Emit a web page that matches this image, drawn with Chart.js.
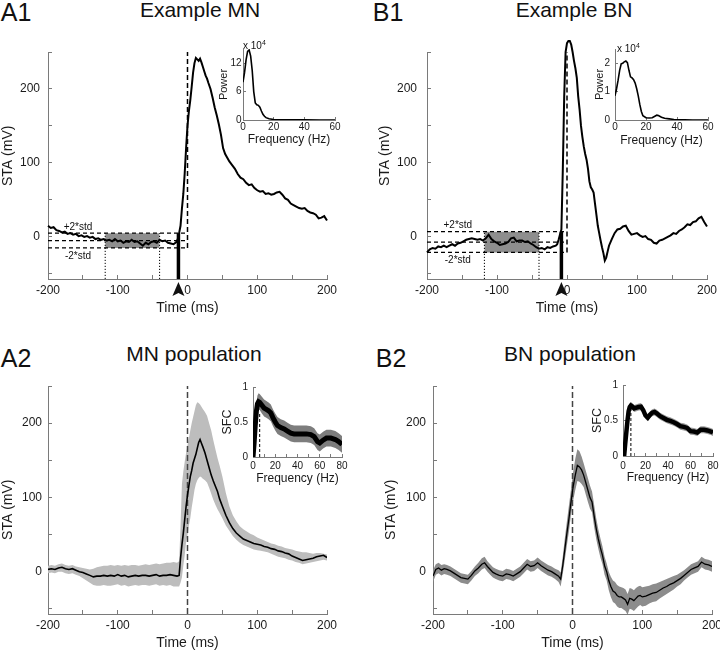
<!DOCTYPE html>
<html><head><meta charset="utf-8">
<script src="https://cdn.jsdelivr.net/npm/chart.js@4.4.1/dist/chart.umd.min.js"></script>
<style>
body{margin:0;background:#fff;width:720px;height:652px;position:relative;overflow:hidden;font-family:"Liberation Sans",Arial,Helvetica,sans-serif;}
canvas{position:absolute;}
.t{position:absolute;transform:translate(-50%,-50%);line-height:1;white-space:nowrap;color:#111;}
.e{position:absolute;font-size:10px;line-height:1;white-space:nowrap;color:#111;}
.e sup{font-size:7px;vertical-align:4px;line-height:0;}
</style></head><body>
<div class="t" style="left:16px;top:12px;font-size:25px">A1</div>
<div class="t" style="left:200px;top:9px;font-size:21px">Example MN</div>
<div class="t" style="left:388px;top:12px;font-size:25px">B1</div>
<div class="t" style="left:574px;top:9px;font-size:21px">Example BN</div>
<div class="t" style="left:16px;top:358px;font-size:25px">A2</div>
<div class="t" style="left:194px;top:353px;font-size:21px">MN population</div>
<div class="t" style="left:391px;top:358px;font-size:25px">B2</div>
<div class="t" style="left:570px;top:353px;font-size:21px">BN population</div>

<canvas id="cA1"></canvas>
<canvas id="cB1"></canvas>
<canvas id="cA2"></canvas>
<canvas id="cB2"></canvas>
<canvas id="iA1"></canvas>
<canvas id="iB1"></canvas>
<canvas id="iA2"></canvas>
<canvas id="iB2"></canvas>
<div class="e" style="left:243px;top:41px">x 10<sup>4</sup></div>
<div class="e" style="left:617px;top:44px">x 10<sup>4</sup></div>

<script>
// ---------------- DATA ----------------
// A1: example MN spike-triggered average
const tA1 = [
-200,-196,-192,-188,-184,-180,-176,-172,-168,-164,
-160,-156,-152,-148,-144,-140,-136,-132,-128,-124,
-120,-116,-112,-108,-104,-100,-96,-92,-88,-84,
-80,-76,-72,-68,-64,-60,-56,-52,-48,-44,
-40,-36,-32,-28,-24,-20,-16,-14,-12,-10,
-8,-6,-4,-2,0,2,4,6,8,10,
12,14,16,18,20,22,24,26,28,30,
33,36,39,42,45,48,51,54,57,60,
64,68,72,76,80,84,88,92,96,100,
104,108,112,116,120,124,128,132,136,140,
144,148,152,156,160,164,168,172,176,180,
184,188,192,196,200];
const staA1 = [
15,12,13,9,8,6,7,4,5,3,
4,1,2,0,1,-1,0,-3,-2,-4,
-3,-5,-4,-6,-3,-6,-5,-8,-6,-7,
-4,-7,-6,-9,-12,-8,-10,-7,-6,-8,
-4,-6,-5,-8,-9,-10,-7,-3,5,15,
38,58,86,120,150,170,185,203,222,235,
242,240,238,241,236,230,224,218,214,208,
200,188,175,164,152,138,120,112,107,102,
97,92,85,80,78,73,70,71,66,63,
61,62,58,59,57,58,60,61,57,52,
50,45,43,41,39,38,39,35,33,32,
30,25,26,28,22];
const stdA1 = [5, -5, -15];        // +2*std, mean, -2*std
const windowA1 = [-118, -40];      // shaded baseline window (ms)
const onsetA1 = [-13];             // spike onset (ms)

// B1: example BN
const tB1 = [
-200,-196,-192,-188,-184,-180,-176,-172,-168,-164,
-160,-156,-152,-148,-144,-140,-136,-132,-128,-124,
-120,-116,-112,-108,-104,-100,-96,-92,-88,-84,
-80,-76,-72,-68,-64,-60,-56,-52,-48,-44,
-40,-36,-32,-28,-24,-20,-16,-14,-12,-10,
-8,-6,-4,-2,0,2,4,6,8,10,
12,14,16,18,20,22,24,26,28,30,
32,34,36,38,40,42,44,46,48,50,
52,54,56,58,60,64,68,72,76,80,
84,88,92,96,100,104,108,112,116,120,
124,128,132,136,140,144,148,152,156,160,
164,168,172,176,180,184,188,192,196,200];
const staB1 = [
-21,-17,-15,-16,-13,-14,-12,-14,-12,-10,
-12,-9,-8,-6,-4,-3,-2,-3,-4,-3,
-5,-2,3,-3,-6,-8,-11,-10,-9,-7,
-2,-1,-6,-5,-5,-7,-6,-9,-11,-14,
-16,-15,-17,-14,-15,-13,-12,-10,-4,3,
10,90,190,250,262,265,265,260,250,238,
228,215,190,172,150,135,122,112,104,92,
75,67,64,60,45,30,15,5,-5,-14,
-22,-32,-28,-20,-12,-3,5,10,11,14,
15,8,3,4,5,2,0,1,-3,-4,
-8,-9,-5,-4,-2,0,2,5,4,8,
10,13,17,16,20,21,25,27,20,14];
const stdB1 = [7, -7, -21];
const windowB1 = [-118, -40];
const onsetB1 = [-8];

// A2: MN population mean +/- spread
const tA2 = [
-200,-195,-190,-185,-180,-175,-170,-165,-160,-155,
-150,-145,-140,-135,-130,-125,-120,-115,-110,-105,
-100,-95,-90,-85,-80,-75,-70,-65,-60,-55,
-50,-45,-40,-35,-30,-25,-20,-15,-12,-10,
-8,-6,-4,-2,0,2,4,6,8,10,
12,14,16,18,20,22,25,28,31,34,
37,40,43,46,50,55,60,65,70,75,
80,85,90,95,100,105,110,115,120,125,
130,135,140,145,150,155,160,165,170,175,
180,185,190,195,200];
const meanA2 = [
3,4,3,5,6,4,3,4,2,0,
-1,-3,-5,-7,-6,-6,-5,-6,-5,-6,
-4,-6,-5,-7,-6,-5,-6,-5,-5,-6,
-5,-4,-6,-5,-5,-4,-5,-6,-5,18,
36,52,70,88,103,116,128,136,146,152,
158,166,174,178,173,168,160,150,140,130,
122,115,108,98,88,76,66,58,52,48,
44,42,40,38,37,36,34,33,31,30,
28,27,25,24,21,19,17,15,16,17,
18,20,21,22,19];
const upperA2 = [
8,9,8,10,11,9,8,9,7,6,
5,4,3,4,6,7,8,8,9,8,
9,8,9,8,9,9,8,9,10,9,
10,11,10,11,12,12,13,12,14,60,
118,135,148,160,170,180,190,200,208,216,
224,228,227,225,222,219,215,210,200,190,
177,165,153,143,128,106,88,76,68,61,
57,54,51,49,46,44,42,40,38,37,
35,34,32,31,30,28,27,26,26,25,
24,25,25,24,23];
const lowerA2 = [
-2,-1,-2,0,0,-2,-3,-2,-4,-6,
-9,-12,-15,-18,-19,-19,-18,-19,-19,-18,
-17,-19,-18,-20,-19,-18,-19,-18,-18,-19,
-18,-17,-19,-18,-19,-18,-20,-20,-20,-15,
-8,8,22,40,50,62,72,86,98,110,
118,123,126,128,127,125,123,120,113,105,
97,90,84,79,72,62,55,48,43,39,
36,34,32,30,29,28,27,26,24,22,
20,19,18,16,15,13,12,10,11,12,
13,14,15,16,15];

// B2: BN population mean +/- spread
const tB2 = [
-200,-196,-192,-188,-184,-180,-175,-170,-165,-160,
-155,-150,-145,-140,-135,-130,-126,-122,-118,-114,
-110,-105,-100,-95,-90,-85,-80,-75,-70,-65,
-60,-55,-50,-45,-40,-35,-30,-25,-20,-17,
-14,-11,-8,-5,-2,1,4,7,10,13,
16,19,22,25,28,31,34,37,40,43,
46,49,52,55,58,61,64,67,70,73,
76,79,82,85,88,91,94,97,100,105,
110,115,120,125,130,135,140,145,150,155,
160,165,170,175,180,185,190,195,200];
const meanB2 = [
-6,3,5,2,4,3,1,-2,-5,-8,
-9,-10,-5,1,5,10,12,7,3,-1,
-3,-5,-6,-3,-4,-6,-3,0,5,10,
7,8,12,8,5,2,0,-3,-6,-10,
8,30,52,72,95,115,130,143,141,137,
130,120,110,100,94,75,58,44,32,22,
8,0,-12,-20,-26,-28,-32,-34,-34,-36,
-38,-44,-36,-37,-39,-36,-33,-32,-34,-33,
-31,-29,-28,-25,-22,-20,-17,-15,-12,-9,
-5,-1,3,5,7,13,10,9,7];
const upperB2 = [
2,10,12,9,10,9,7,4,1,-2,
-3,-4,1,7,12,18,20,14,10,6,
4,2,1,4,3,1,4,7,12,17,
14,15,19,15,12,9,7,4,2,-1,
20,45,68,90,112,135,152,165,162,155,
146,136,126,116,108,90,72,57,45,34,
20,11,0,-7,-12,-14,-18,-20,-21,-22,
-24,-30,-22,-23,-25,-22,-20,-19,-21,-20,
-19,-17,-16,-14,-12,-10,-8,-6,-4,-1,
2,6,10,12,14,20,17,16,14];
const lowerB2 = [
-14,-4,-2,-5,-3,-4,-6,-9,-12,-15,
-16,-17,-12,-6,-2,3,5,0,-4,-8,
-10,-12,-13,-10,-11,-13,-10,-7,-2,3,
0,1,5,1,-2,-5,-7,-10,-14,-20,
-3,16,36,55,78,96,110,122,121,118,
114,104,94,85,80,60,44,31,19,10,
-4,-12,-25,-34,-41,-43,-47,-49,-49,-51,
-53,-58,-50,-51,-53,-50,-47,-45,-47,-46,
-43,-41,-40,-36,-33,-30,-27,-24,-20,-17,
-12,-8,-4,-2,0,6,3,2,0];

// Insets: power spectra (x 10^4) and spike-field coherence
const freqA1 = [0,1,2,3,4,5,6,7,8,9,10,11,12,13,14,15,17,20,25,30,40,50,60];
const powerA1 = [8,10,12.7,14.5,14.8,13.5,10.5,6,3.6,3.2,3.1,2.7,1.9,1.2,0.8,0.5,0.25,0.12,0.06,0.04,0.02,0.01,0];
const freqB1 = [0,1,2,3,4,5,6,7,8,9,10,11,12,13,14,15,16,17,18,20,22,24,26,27,28,30,32,35,38,40,45,50,60];
const powerB1 = [0.85,1.1,1.4,1.75,1.98,2.0,2.05,2.08,2.02,1.75,1.52,1.48,1.42,1.3,1.1,0.85,0.55,0.3,0.15,0.08,0.07,0.08,0.14,0.17,0.16,0.1,0.06,0.04,0.02,0.01,0.005,0,0];

const freqA2 = [0,1,2,3,4,5,6,8,10,12,14,16,18,20,22,25,28,31,34,37,40,44,48,52,55,58,60,63,66,70,74,77,80];
const sfcA2 = [0,0.2,0.45,0.65,0.76,0.79,0.78,0.74,0.7,0.68,0.66,0.63,0.56,0.5,0.45,0.42,0.4,0.37,0.34,0.33,0.33,0.33,0.33,0.32,0.29,0.22,0.2,0.24,0.27,0.27,0.25,0.22,0.18];
const sfcUpA2 = [0.02,0.3,0.56,0.77,0.88,0.91,0.9,0.86,0.82,0.8,0.78,0.75,0.68,0.62,0.57,0.54,0.52,0.49,0.46,0.45,0.45,0.45,0.45,0.44,0.41,0.34,0.32,0.36,0.39,0.39,0.37,0.34,0.3];
const sfcLoA2 = [0,0.1,0.33,0.53,0.65,0.68,0.67,0.62,0.58,0.56,0.54,0.51,0.44,0.38,0.33,0.3,0.28,0.25,0.22,0.21,0.21,0.21,0.21,0.2,0.17,0.1,0.08,0.12,0.15,0.15,0.13,0.1,0.06];
const cutA2 = [6, 0.64];           // dashed marker: frequency, height

const freqB2 = [1,2,3,4,5,6,7,8,10,12,14,16,18,20,22,24,26,28,30,33,36,39,42,45,48,51,54,57,60,63,66,69,72,75,78,80];
const sfcB2 = [0,0.18,0.34,0.5,0.63,0.69,0.71,0.7,0.67,0.68,0.69,0.695,0.645,0.57,0.54,0.58,0.61,0.62,0.6,0.56,0.535,0.51,0.495,0.475,0.45,0.42,0.41,0.395,0.35,0.345,0.33,0.37,0.37,0.36,0.345,0.33];
const sfcUpB2 = [0.03,0.23,0.39,0.55,0.68,0.74,0.76,0.75,0.72,0.73,0.74,0.745,0.695,0.62,0.59,0.63,0.66,0.67,0.65,0.61,0.585,0.56,0.545,0.525,0.5,0.47,0.46,0.445,0.4,0.395,0.38,0.42,0.42,0.41,0.395,0.38];
const sfcLoB2 = [0,0.13,0.29,0.45,0.58,0.64,0.66,0.65,0.62,0.63,0.64,0.645,0.595,0.52,0.49,0.53,0.56,0.57,0.55,0.51,0.485,0.46,0.445,0.425,0.4,0.37,0.36,0.345,0.3,0.295,0.28,0.32,0.32,0.31,0.295,0.28];
const cutB2 = [7, 0.66];

// axis ranges / ticks
const staRange = [-57, 250];
const timeRange = [-200, 200];
const staTicks = [50, 100];        // tick step, label step
const timeTicks = [50, 100];

// ---------------- RENDERING ----------------
const FONT = '"Liberation Sans", Arial, Helvetica, sans-serif';
const AX = '#7a7a7a';
const TXT = '#1a1a1a';
Chart.defaults.font.family = FONT;
Chart.defaults.color = TXT;

function pts(xs, ys){ return xs.map((x,i)=>({x:x, y:ys[i]})); }
function ln(data, o){
  return Object.assign({data:data, borderColor:'#000', borderWidth:1.5, pointRadius:0, pointHoverRadius:0,
    fill:false, tension:0, backgroundColor:'rgba(0,0,0,0)'}, o||{});
}
function labeler(every){
  return function(v){
    const r = v/every;
    return Math.abs(r - Math.round(r)) < 1e-6 ? String(+(+v).toFixed(3)) : '';
  };
}
function axis(pos, g){
  const horiz = pos === 'bottom';
  const s = {
    type:'linear', position:pos, min:g.min, max:g.max,
    border:{display:true, color:AX, width:1},
    grid:{display:true, drawOnChartArea:false, drawTicks:true, tickLength:g.tl, color:AX, lineWidth:1},
    ticks:{stepSize:g.step, autoSkip:false, maxRotation:0, minRotation:0, includeBounds:false,
      padding:g.pad, color:TXT, font:{size:g.tf, family:FONT}, callback:labeler(g.every)},
    title:{display:true, text:g.title, color:TXT, font:{size:g.titleSize, family:FONT}, padding:0}
  };
  if (horiz) s.afterFit = function(sc){ sc.height = g.size; sc.paddingLeft = 0; sc.paddingRight = 0; };
  else s.afterFit = function(sc){ sc.width = g.size; sc.paddingTop = 0; sc.paddingBottom = 0; };
  return s;
}
function make(id, box, pad, datasets, xs, ys, plugins, pluginOpts){
  const c = document.getElementById(id);
  c.width = box[2]; c.height = box[3];
  c.style.left = box[0]+'px'; c.style.top = box[1]+'px';
  c.style.width = box[2]+'px'; c.style.height = box[3]+'px';
  return new Chart(c, {
    type:'line',
    data:{datasets:datasets},
    options:{
      responsive:false, animation:false, devicePixelRatio:1, events:[],
      layout:{padding:pad},
      plugins:Object.assign({legend:{display:false}, tooltip:{enabled:false}, title:{display:false}}, pluginOpts||{}),
      scales:{x:xs, y:ys}
    },
    plugins:plugins||[]
  });
}

const stdMarks = {
  id:'stdMarks',
  afterDatasetsDraw(chart, args, o){
    const {ctx, chartArea:a, scales:{x, y}} = chart;
    ctx.save();
    ctx.fillStyle = '#111';
    ctx.font = '10px ' + FONT;
    ctx.textAlign = 'center'; ctx.textBaseline = 'middle';
    const lx = x.getPixelForValue(o.labelAt);
    ctx.fillText('+2*std', lx, y.getPixelForValue(o.hi) - 6);
    ctx.fillText('-2*std', lx, y.getPixelForValue(o.lo) + 8);
    const ax = x.getPixelForValue(o.onset);
    const ay = a.bottom + 3;
    ctx.beginPath();
    ctx.moveTo(ax, ay);
    ctx.lineTo(ax + 6, ay + 14);
    ctx.lineTo(ax, ay + 11);
    ctx.lineTo(ax - 6, ay + 14);
    ctx.closePath();
    ctx.fill();
    ctx.restore();
  }
};

function exampleDatasets(t, v, std, win, onset){
  const hi = std[0], mid = std[1], lo = std[2];
  const yMin = staRange[0], yMax = staRange[1];
  return [
    ln(pts(t, v), {borderWidth:2, clip:false}),
    ln(pts([onset[0], onset[0]], [yMin, hi]), {borderWidth:3.5}),
    ln(pts([0, 0], [lo, yMax]), {borderWidth:1.5, borderDash:[5,3]}),
    ln(pts([timeRange[0], 0], [hi, hi]), {borderWidth:1.2, borderDash:[4,3]}),
    ln(pts([timeRange[0], 0], [mid, mid]), {borderWidth:1.2, borderDash:[4,3]}),
    ln(pts([timeRange[0], 0], [lo, lo]), {borderWidth:1.2, borderDash:[4,3]}),
    ln(pts([win[0], win[0]], [yMin, hi]), {borderWidth:1, borderDash:[1.2,1.8]}),
    ln(pts([win[1], win[1]], [yMin, hi]), {borderWidth:1, borderDash:[1.2,1.8]}),
    ln(pts(win, [hi, hi]), {borderWidth:0, fill:'+1', backgroundColor:'#8e8e8e'}),
    ln(pts(win, [lo, lo]), {borderWidth:0})
  ];
}
function popDatasets(t, m, up, lo, band, w){
  return [
    ln(pts(t, m), {borderWidth:w}),
    ln(pts([0, 0], staRange), {borderWidth:1.5, borderColor:'#444', borderDash:[6,3]}),
    ln(pts(t, up), {borderWidth:0, fill:'+1', backgroundColor:band}),
    ln(pts(t, lo), {borderWidth:0})
  ];
}
// leading / trailing spaces nudge the rotated title along the axis
function staY(size, pad, title){ return {min:staRange[0], max:staRange[1], step:staTicks[0], every:staTicks[1], tl:-4, pad:pad, tf:12, title:title, titleSize:14, size:size}; }
function timeX(){ return {min:timeRange[0], max:timeRange[1], step:timeTicks[0], every:timeTicks[1], tl:-4, pad:8, tf:12, title:'Time (ms)', titleSize:14, size:38}; }
const STA_UP = '     STA (mV)';
const STA_DOWN = 'STA (mV)     ';

// main panels
make('cA1', [0,36,341,281], {left:0,top:16,right:14,bottom:0},
  exampleDatasets(tA1, staA1, stdA1, windowA1, onsetA1),
  axis('bottom', timeX()), axis('left', staY(48, 12, STA_UP)), [stdMarks],
  {stdMarks:{labelAt:-157, hi:stdA1[0], lo:stdA1[2], onset:onsetA1[0]}});
make('cB1', [377,36,343,281], {left:0,top:16,right:13,bottom:0},
  exampleDatasets(tB1, staB1, stdB1, windowB1, onsetB1),
  axis('bottom', timeX()), axis('left', staY(50, 14, STA_UP)), [stdMarks],
  {stdMarks:{labelAt:-156, hi:stdB1[0], lo:stdB1[2], onset:onsetB1[0]}});
make('cA2', [0,378,341,274], {left:0,top:8,right:14,bottom:0},
  popDatasets(tA2, meanA2, upperA2, lowerA2, '#bdbdbd', 1.6),
  axis('bottom', timeX()), axis('left', staY(48, 10, STA_DOWN)));
make('cB2', [383,378,337,274], {left:0,top:8,right:8,bottom:0},
  popDatasets(tB2, meanB2, upperB2, lowerB2, '#8c8c8c', 1.3),
  axis('bottom', timeX()), axis('left', staY(50, 11, STA_DOWN)));

// insets
function fx(max, step, every, pad){ return {min:0, max:max, step:step, every:every, tl:-3, pad:pad, tf:10, title:'Frequency (Hz)', titleSize:12, size:0}; }
const gxA1 = fx(60, 20, 20, 4); gxA1.size = 27;
const gyA1 = {min:0, max:15, step:6, every:6, tl:-3, pad:4.5, tf:10, title:'Power', titleSize:11, size:26};
make('iA1', [217,45,126,102], {left:0,top:4,right:8,bottom:0},
  [ln(pts(freqA1, powerA1), {borderWidth:1.6})], axis('bottom', gxA1), axis('left', gyA1));

const gxB1 = fx(60, 20, 20, 4); gxB1.size = 28;
const gyB1 = {min:0, max:2.5, step:1, every:1, tl:-3, pad:8, tf:10, title:'Power', titleSize:11, size:22};
make('iB1', [593,45,127,103], {left:0,top:4,right:12,bottom:0},
  [ln(pts(freqB1, powerB1), {borderWidth:1.6})], axis('bottom', gxB1), axis('left', gyB1));

function sfcSets(f, s, up, lo, cut, band, w){
  return [
    ln(pts(f, s), {borderWidth:w}),
    ln(pts([cut[0], cut[0]], [0, cut[1]]), {borderWidth:1, borderDash:[3,2]}),
    ln(pts(f, up), {borderWidth:0, fill:'+1', backgroundColor:band}),
    ln(pts(f, lo), {borderWidth:0})
  ];
}
const gxA2 = fx(80, 10, 20, 6); gxA2.size = 29;
const gyA2 = {min:0, max:1, step:0.5, every:0.5, tl:-3, pad:8, tf:10, title:'SFC', titleSize:12.5, size:33};
make('iA2', [220,381,132,105], {left:0,top:6,right:10,bottom:0},
  sfcSets(freqA2, sfcA2, sfcUpA2, sfcLoA2, cutA2, '#7d7d7d', 5),
  axis('bottom', gxA2), axis('left', gyA2));

const gxB2 = fx(80, 10, 20, 7); gxB2.size = 29;
const gyB2 = {min:0, max:1, step:0.5, every:0.5, tl:-3, pad:8, tf:10, title:'SFC', titleSize:12.5, size:33};
make('iB2', [590,379,130,106], {left:0,top:6,right:7,bottom:0},
  sfcSets(freqB2, sfcB2, sfcUpB2, sfcLoB2, cutB2, '#9a9a9a', 4.5),
  axis('bottom', gxB2), axis('left', gyB2));
</script>
</body></html>
